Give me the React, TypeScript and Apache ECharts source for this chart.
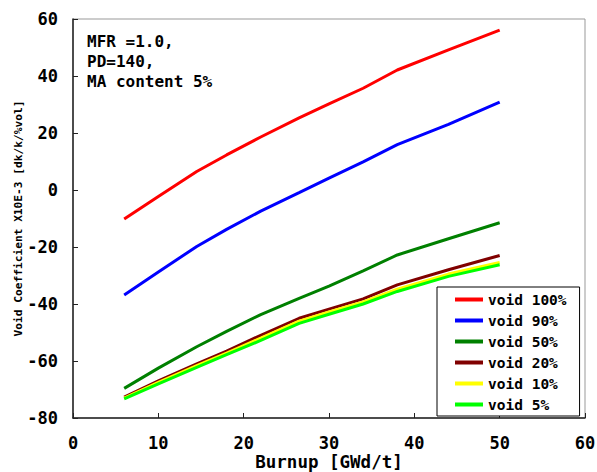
import React, { useEffect, useRef } from "react";
import * as echarts from "echarts";

// Burnup grid (GWd/t) shared by all curves
const burnup = [6, 10, 14.5, 18, 22, 26.5, 30, 34, 38, 44, 50];

// Void coefficient (x10^-3 dk/k/%vol) for each void fraction
const void100 = [-10.2, -2.3, 6.5, 12.3, 18.6, 25.3, 30.2, 35.7, 42.1, 49.2, 56.1];
const void90 = [-36.8, -28.8, -19.8, -13.8, -7.4, -0.9, 4.2, 9.9, 15.9, 23.0, 30.8];
const void50 = [-69.6, -62.5, -55.0, -49.6, -43.7, -38.0, -33.7, -28.4, -22.8, -17.1, -11.5];
const void20 = [-72.7, -67.0, -61.0, -56.5, -51.0, -45.0, -41.8, -38.2, -33.3, -28.0, -23.0];
const void10 = [-73.0, -67.5, -61.6, -57.2, -52.0, -46.0, -42.8, -39.3, -34.8, -29.5, -25.4];
const void5 = [-73.3, -68.0, -62.2, -57.8, -52.8, -46.8, -43.6, -40.0, -35.6, -30.3, -26.2];

const seriesNames = ["void 100%", "void 90%", "void 50%", "void 20%", "void 10%", "void 5%"];
const seriesValues = [void100, void90, void50, void20, void10, void5];
const seriesColors = ["#ff0000", "#0000ff", "#008000", "#800000", "#ffff00", "#00ff00"];

const noteLines = ["MFR =1.0,", "PD=140,", "MA content 5%"];

const FONT = "'DejaVu Sans Mono', monospace";

export default function App() {
  const ref = useRef<HTMLDivElement>(null);

  useEffect(() => {
    document.body.style.margin = "0";
    if (!ref.current) return;
    const chart = echarts.init(ref.current, null, { renderer: "svg" });

    const series = seriesNames.map((name, i) => ({
      name,
      type: "line",
      data: burnup.map((x, j) => [x, seriesValues[i][j]]),
      showSymbol: false,
      symbol: "none",
      lineStyle: { color: seriesColors[i], width: 3 },
      itemStyle: { color: seriesColors[i] },
    }));

    chart.setOption({
      animation: false,
      backgroundColor: "#ffffff",
      grid: {
        left: 73,
        top: 19,
        width: 512,
        height: 399,
        containLabel: false,
        outerBoundsMode: "none",
        show: true,
        borderColor: "#999",
        borderWidth: 1,
      },
      xAxis: {
        type: "value",
        min: 0,
        max: 60,
        interval: 10,
        name: "Burnup [GWd/t]",
        nameLocation: "middle",
        nameGap: 36,
        nameMoveOverlap: false,
        nameTextStyle: { fontFamily: FONT, fontWeight: "bold", fontSize: 17.5, lineHeight: 16, color: "#000" },
        axisLine: { onZero: false, lineStyle: { color: "#222", width: 1.5 } },
        axisTick: { inside: true, length: 5, lineStyle: { color: "#222" } },
        axisLabel: { fontFamily: FONT, fontWeight: "bold", fontSize: 17, lineHeight: 17, color: "#000", margin: 16 },
        splitLine: { show: false },
      },
      yAxis: {
        type: "value",
        min: -80,
        max: 60,
        interval: 20,
        name: "Void Coefficient X10E-3 [dk/k/%vol]",
        nameLocation: "middle",
        nameGap: 49,
        nameMoveOverlap: false,
        nameTextStyle: { fontFamily: FONT, fontWeight: "bold", fontSize: 11.2, color: "#000" },
        axisLine: { onZero: false, lineStyle: { color: "#222", width: 1.5 } },
        axisTick: { inside: true, length: 5, lineStyle: { color: "#222" } },
        axisLabel: { fontFamily: FONT, fontWeight: "bold", fontSize: 17, color: "#000", margin: 15 },
        splitLine: { show: false },
      },
      legend: {
        orient: "vertical",
        left: 437,
        top: 287,
        padding: [5, 13, 4, 18],
        itemGap: 6,
        itemWidth: 28,
        itemHeight: 4,
        icon: "rect",
        borderColor: "#000",
        borderWidth: 1,
        backgroundColor: "#fff",
        textStyle: { fontFamily: FONT, fontWeight: "bold", fontSize: 14.5, color: "#000", lineHeight: 14 },
        data: seriesNames,
      },
      graphic: [
        {
          type: "text",
          left: 87,
          top: 31,
          style: {
            text: noteLines.join("\n"),
            font: `bold 16px ${FONT}`,
            lineHeight: 20,
            fill: "#000",
          },
        },
      ],
      series,
    });

    return () => chart.dispose();
  }, []);

  return <div ref={ref} style={{ width: 597, height: 472 }} />;
}
